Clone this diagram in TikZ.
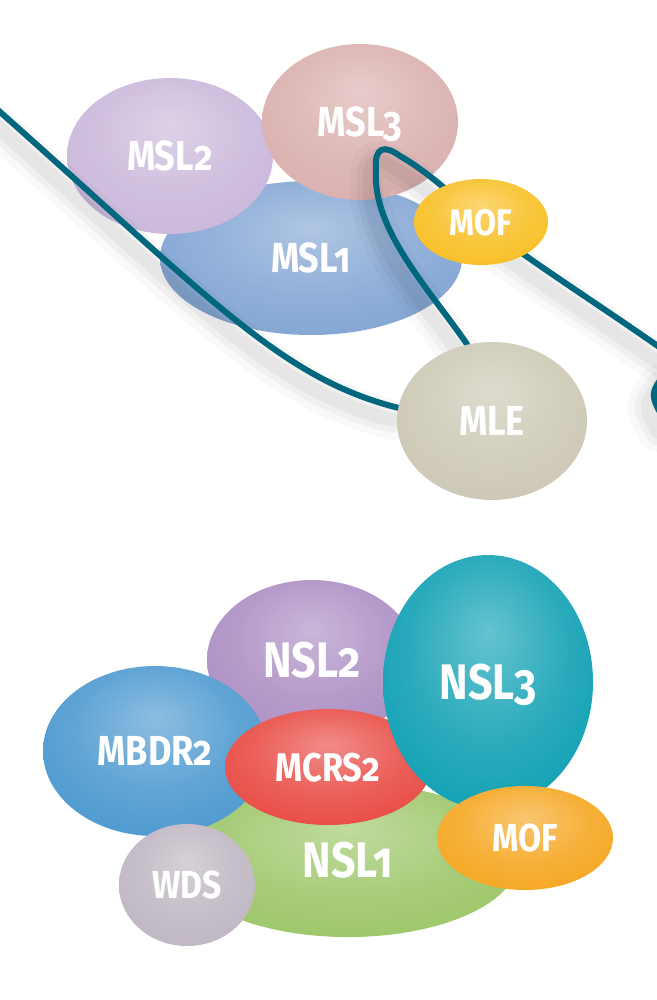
\documentclass[tikz,border=0pt]{standalone}
\usepackage{fontspec}
\setmainfont{Fira Sans}[Numbers=OldStyle, FakeStretch=0.86]
\usetikzlibrary{shapes.geometric}

\definecolor{lineteal}{HTML}{00677F}
\definecolor{mslblue}{HTML}{7EA2D2}
\definecolor{msllilac}{HTML}{C8B5D9}
\definecolor{mslrose}{HTML}{D8ADAB}
\definecolor{mofyellow}{HTML}{F8BD1C}
\definecolor{mlebeige}{HTML}{CBC6B2}
\definecolor{nslgreen}{HTML}{99C463}
\definecolor{nslpurple}{HTML}{A98AC1}
\definecolor{mbdrblue}{HTML}{4595CE}
\definecolor{wdsgray}{HTML}{BCB3BF}
\definecolor{mcrsred}{HTML}{E8443D}
\definecolor{nslteal}{HTML}{079DB1}
\definecolor{moforange}{HTML}{F5A318}

\colorlet{bubblebase}{gray}
\pgfdeclareradialshading[bubblebase]{glossy}{\pgfpoint{0bp}{10bp}}{%
  color(0bp)=(bubblebase!62!white);
  color(18bp)=(bubblebase!85!white);
  color(36bp)=(bubblebase);
  color(47bp)=(bubblebase!93!black);
  color(50bp)=(bubblebase!82!black)}

\pgfdeclarelayer{bubbles}
\pgfdeclarelayer{wires}
\pgfsetlayers{bubbles,wires,main}

\tikzset{
  bubble/.style={ellipse, inner sep=0pt, text=white, text depth=0pt,
    /utils/exec={\colorlet{bubblebase}{#1}}, shading=glossy},
  lab/.style={font=\fontsize{#1}{#1}\selectfont\bfseries},
  wire/.style={draw=lineteal, line width=3pt, line cap=round},
  wireshadow/.style={draw=black, line cap=round,
    transform canvas={shift={(-3pt,-6pt)}}},
}

\begin{document}
\begin{tikzpicture}[x=0.5pt, y=-0.5pt]
\useasboundingbox (0,0) rectangle (657,1000);

% upper cluster
\begin{pgfonlayer}{bubbles}
\node[bubble=mslblue, minimum width=151pt, minimum height=77pt, lab=21] (msl1) at (311,258) {MSL1};
\node[bubble=msllilac, minimum width=103pt, minimum height=78pt, lab=21] (msl2) at (170,156) {MSL2};
\node[bubble=mslrose, minimum width=98pt, minimum height=78pt, lab=21] (msl3) at (360,122) {MSL3};
\end{pgfonlayer}

\node[bubble=mofyellow, minimum width=67pt, minimum height=43pt, lab=18.5] (mof) at (481,222) {MOF};
\node[bubble=mlebeige, minimum width=95pt, minimum height=79pt, lab=21] (mle) at (492,421) {MLE};

\coordinate (w1start) at (-10,103);
\coordinate (loopa) at (376,170);
\coordinate (loopb) at (400,156);
\coordinate (w2end) at (672,356);
\coordinate (w3top) at (666,372);
\coordinate (w3bot) at (664,420);

\begin{pgfonlayer}{wires}
\foreach \lw/\op in {20pt/.025, 13pt/.035, 7pt/.045} {
  \draw[wireshadow, line width=\lw, opacity=\op] (w1start) .. controls (210,298) and (280,378) .. (mle.172);
  \draw[wireshadow, line width=\lw, opacity=\op] (mle.108) .. controls (430,290) and (372,230) .. (loopa)
    .. controls (374,146) and (385,145) .. (loopb)
    .. controls (425,170) and (460,200) .. (mof.center)
    .. controls (520,255) and (600,305) .. (w2end);
  \draw[wireshadow, line width=\lw, opacity=\op] (w3top) .. controls (650,394) .. (w3bot);
}
\draw[wire] (w1start) .. controls (210,298) and (280,378) .. (mle.172);
\draw[wire] (mle.108) .. controls (430,290) and (372,230) .. (loopa)
  .. controls (374,146) and (385,145) .. (loopb)
  .. controls (425,170) and (460,200) .. (mof.center)
  .. controls (520,255) and (600,305) .. (w2end);
\draw[wire] (w3top) .. controls (650,394) .. (w3bot);
\end{pgfonlayer}

% lower cluster
\node[bubble=nslgreen, minimum width=170pt, minimum height=77pt, lab=25] (nsl1) at (348,860) {NSL1};
\node[bubble=nslpurple, minimum width=105pt, minimum height=80pt, lab=25] (nsl2) at (312,660) {NSL2};
\node[bubble=mbdrblue, minimum width=112pt, minimum height=85pt, lab=21] (mbdr2) at (155,751) {MBDR2};
\node[bubble=wdsgray, minimum width=68pt, minimum height=61pt, lab=19.5] (wds) at (187,885) {WDS};
\node[bubble=mcrsred, minimum width=103pt, minimum height=58pt, lab=20] (mcrs2) at (328,767) {MCRS2};
\node[bubble=nslteal, minimum width=105pt, minimum height=127pt, lab=25] (nsl3) at (488,682) {NSL3};
\node[bubble=moforange, minimum width=88pt, minimum height=52pt, lab=19.5] (mof2) at (525,838) {MOF};
\end{tikzpicture}
\end{document}
